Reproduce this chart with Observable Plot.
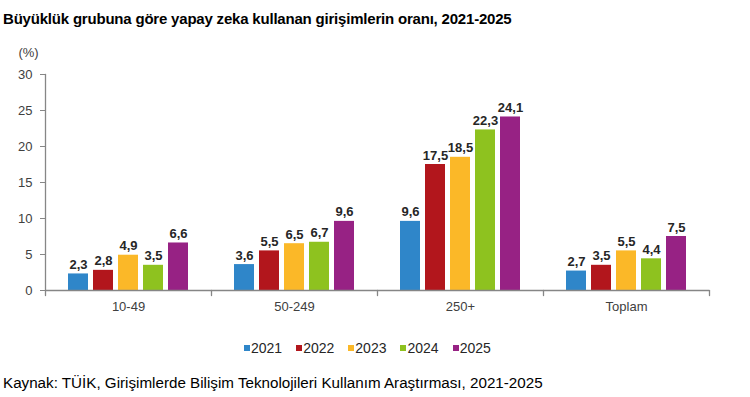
<!DOCTYPE html>
<html><head><meta charset="utf-8">
<script src="https://cdn.jsdelivr.net/npm/d3@7"></script>
<script src="https://cdn.jsdelivr.net/npm/@observablehq/plot@0.6"></script>
<style>
body{margin:0;background:#fff;font-family:Arial,"Liberation Sans",sans-serif;}
#title{position:absolute;left:3px;top:10px;font-weight:bold;font-size:15px;letter-spacing:-0.2px;color:#000;white-space:nowrap;}
#chart{position:absolute;left:0;top:30px;}
#legend{position:absolute;top:340px;left:244px;display:flex;align-items:center;font-size:14px;color:#262626;}
#legend .item{display:flex;align-items:center;margin-right:14px;}
#legend .sw{width:6px;height:6px;margin-right:1px;}
#caption{position:absolute;left:3px;top:374px;font-size:15.2px;color:#000;white-space:nowrap;}
</style>
</head><body>
<div id="title">Büyüklük grubuna göre yapay zeka kullanan girişimlerin oranı, 2021-2025</div>
<div id="chart"></div>
<div id="legend"></div>
<div id="caption">Kaynak: TÜİK, Girişimlerde Bilişim Teknolojileri Kullanım Araştırması, 2021-2025</div>
<script>
const groups = ["10-49", "50-249", "250+", "Toplam"];
const years = ["2021", "2022", "2023", "2024", "2025"];
const v2021 = [2.3, 3.6, 9.6, 2.7];
const v2022 = [2.8, 5.5, 17.5, 3.5];
const v2023 = [4.9, 6.5, 18.5, 5.5];
const v2024 = [3.5, 6.7, 22.3, 4.4];
const v2025 = [6.6, 9.6, 24.1, 7.5];
const yTicks = [0, 5, 10, 15, 20, 25, 30];
const colors = ["#2f86c9", "#b2161c", "#fbb828", "#8ec21f", "#972284"];

const series = [v2021, v2022, v2023, v2024, v2025];
const data = [];
groups.forEach((g, gi) => years.forEach((yr, yi) => data.push({group: g, year: yr, value: series[yi][gi]})));
const fmt = v => v.toFixed(1).replace(".", ",");
const axisColor = "#868686";
const tickShape = {draw(ctx, l) { ctx.moveTo(0, 0); ctx.lineTo(0, -l); }};

const plot = Plot.plot({
  width: 750,
  height: 305,
  marginTop: 44,
  marginBottom: 45,
  marginLeft: 44,
  marginRight: 41,
  style: {fontFamily: "Arial, 'Liberation Sans', sans-serif", fontSize: "13px", color: "#404040", background: "#fff"},
  fx: {domain: groups, paddingInner: 0, paddingOuter: 0},
  x: {domain: years, paddingInner: 0.216, paddingOuter: 0.87},
  y: {domain: [0, 30]},
  color: {domain: years, range: colors},
  marks: [
    Plot.barY(data, {fx: "group", x: "year", y: "value", fill: "year"}),
    Plot.ruleY([0], {stroke: axisColor, strokeWidth: 1.3}),
    Plot.frame({anchor: "left", facetAnchor: "left", stroke: axisColor, strokeWidth: 1.3}),
    Plot.vector([0], {frameAnchor: "bottom-left", length: 5, rotate: 180, anchor: "start", shape: tickShape, stroke: axisColor, strokeWidth: 1.3}),
    Plot.vector([0], {frameAnchor: "bottom-right", facetAnchor: "right", length: 5, rotate: 180, anchor: "start", shape: tickShape, stroke: axisColor, strokeWidth: 1.3}),
    Plot.text(data, {fx: "group", x: "year", y: "value", text: d => fmt(d.value), lineAnchor: "bottom", dy: -5, fontWeight: "bold", fontSize: 13, fill: "#262626"}),
    Plot.axisY({ticks: yTicks, tickSize: 5, tickPadding: 8, label: null, stroke: axisColor, fill: "#404040"}),
    Plot.axisX({ticks: [], label: null}),
    Plot.axisFx({anchor: "bottom", tickSize: 0, tickPadding: 11, label: null, fill: "#404040"}),
    Plot.text(["(%)"], {frameAnchor: "top-left", facetAnchor: "left", dx: -17, dy: -22, textAnchor: "middle", lineAnchor: "middle", fill: "#404040"})
  ]
});
document.getElementById("chart").appendChild(plot);

const legend = d3.select("#legend");
years.forEach((yr, i) => {
  const item = legend.append("div").attr("class", "item");
  item.append("div").attr("class", "sw").style("background", colors[i]);
  item.append("span").text(yr);
});
</script>
</body></html>
